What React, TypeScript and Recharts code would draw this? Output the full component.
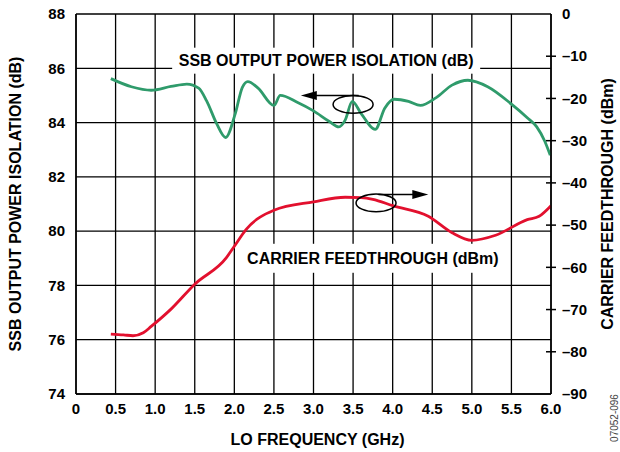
import { LineChart, Line, XAxis, YAxis, CartesianGrid, ReferenceDot, ReferenceLine } from 'recharts';

// SSB output power isolation (dB), left axis
const isoFreq = [0.44, 0.7, 0.95, 1.2, 1.4, 1.55, 1.65, 1.78, 1.89, 2.01, 2.1, 2.17, 2.3, 2.5, 2.58, 2.8, 3.0, 3.2, 3.32, 3.4, 3.49, 3.6, 3.78, 3.9, 4.02, 4.2, 4.35, 4.55, 4.75, 4.95, 5.2, 5.5, 5.7, 5.82, 5.92, 5.99];
const isoDb = [85.62, 85.32, 85.19, 85.33, 85.42, 85.27, 84.8, 83.94, 83.45, 84.31, 85.29, 85.51, 85.27, 84.63, 85.0, 84.74, 84.43, 84.04, 83.84, 84.09, 84.78, 84.34, 83.75, 84.53, 84.86, 84.78, 84.63, 84.92, 85.38, 85.56, 85.32, 84.68, 84.18, 83.84, 83.32, 82.8];

// carrier feedthrough (dBm), right axis
const feedFreq = [0.44, 0.6, 0.72, 0.85, 0.95, 1.2, 1.5, 1.9, 2.0, 2.15, 2.5, 3.0, 3.4, 3.6, 3.75, 4.0, 4.45, 4.75, 5.0, 5.3, 5.7, 5.85, 6.0];
const feedDbm = [-75.8, -76.0, -76.2, -75.5, -74.0, -69.9, -64.0, -57.7, -55.0, -51.0, -46.5, -44.5, -43.4, -43.5, -43.9, -45.4, -47.9, -51.8, -53.6, -52.4, -48.7, -47.9, -45.4];

const freqTicks = [0, 0.5, 1, 1.5, 2, 2.5, 3, 3.5, 4, 4.5, 5, 5.5, 6];
const isoTicks = [74, 76, 78, 80, 82, 84, 86, 88];
const feedTicks = [-90, -80, -70, -60, -50, -40, -30, -20, -10, 0];

const isoData = isoFreq.map((f, i) => ({ freq: f, iso: isoDb[i] }));
const feedData = feedFreq.map((f, i) => ({ freq: f, feed: feedDbm[i] }));

const font = '"Liberation Sans", Arial, sans-serif';
const green = '#2f9b6b';
const red = '#e2102e';

const tickStyle = { fontFamily: font, fontSize: 15, fontWeight: 700, fill: '#000' };
const titleSize = 16;

const RightTick = (props: any) => {
  const { x, y, payload } = props;
  const v = payload.value;
  return (
    <g>
      {v !== 0 && v !== -90 && <line x1={x - 5} x2={x + 5} y1={y} y2={y} stroke="#000" strokeWidth={1.5} />}
      <text x={x + 11} y={y} dy="0.35em" textAnchor="start" {...tickStyle}>
        {v === 0 ? '0' : '\u2013' + Math.abs(v)}
      </text>
    </g>
  );
};

const arrowShape = (props: any) => {
  const { x1, y1, x2, y2 } = props;
  const dir = x2 > x1 ? 1 : -1;
  return (
    <g>
      <line x1={x1} y1={y1} x2={x2 - dir * 10} y2={y2} stroke="#000" strokeWidth={1.5} />
      <polygon points={`${x2},${y2} ${x2 - dir * 16},${y2 - 4.5} ${x2 - dir * 16},${y2 + 4.5}`} fill="#000" />
    </g>
  );
};

const ellipseShape = (props: any) => (
  <ellipse cx={props.cx} cy={props.cy} rx={20} ry={8.8} fill="none" stroke="#000" strokeWidth={1.5} />
);

const boxLabel = (text: string, w: number, h: number) => (props: any) => (
  <g>
    <rect x={props.cx - w / 2} y={props.cy - h / 2} width={w} height={h} fill="#fff" />
    <text x={props.cx} y={props.cy} dy="0.35em" textAnchor="middle" fontFamily={font} fontSize={titleSize} fontWeight={700} fill="#000">
      {text}
    </text>
  </g>
);

export default function App() {
  return (
    <div style={{ position: 'absolute', left: 0, top: 0, width: 620, height: 452, background: '#fff' }}>
      <LineChart width={620} height={452} margin={{ top: 14, right: 0, bottom: 0, left: 0 }}>
        <CartesianGrid yAxisId="left" stroke="#000" strokeWidth={1.3} />
        <XAxis
          dataKey="freq"
          type="number"
          domain={[0, 6]}
          ticks={freqTicks}
          allowDataOverflow
          tickFormatter={(v: number) => (v === 0 ? '0' : v.toFixed(1))}
          height={58}
          tickSize={0}
          tickMargin={9}
          tick={tickStyle}
          axisLine={{ stroke: '#000', strokeWidth: 1.5 }}
          label={{
            content: (p: any) => (
              <text x={p.viewBox.x + p.viewBox.width / 2 + 4} y={439} dy="0.35em" textAnchor="middle" fontFamily={font} fontSize={titleSize} fontWeight={700}>
                LO FREQUENCY (GHz)
              </text>
            ),
          }}
        />
        <YAxis
          yAxisId="left"
          orientation="left"
          width={76}
          domain={[74, 88]}
          ticks={isoTicks}
          allowDataOverflow
          tickSize={0}
          tickMargin={11}
          tick={tickStyle}
          axisLine={{ stroke: '#000', strokeWidth: 1.5 }}
          label={{
            content: (p: any) => {
              const cy = p.viewBox.y + p.viewBox.height / 2;
              return (
                <text x={15} y={cy} dy="0.35em" textAnchor="middle" transform={`rotate(-90 15 ${cy})`} fontFamily={font} fontSize={titleSize} fontWeight={700}>
                  SSB OUTPUT POWER ISOLATION (dB)
                </text>
              );
            },
          }}
        />
        <YAxis
          yAxisId="right"
          orientation="right"
          width={69}
          domain={[-90, 0]}
          ticks={feedTicks}
          allowDataOverflow
          tickSize={0}
          tickMargin={0}
          tickLine={false}
          tick={<RightTick />}
          axisLine={{ stroke: '#000', strokeWidth: 1.5 }}
          label={{
            content: (p: any) => {
              const cy = p.viewBox.y + p.viewBox.height / 2;
              return (
                <g>
                  <text x={607} y={cy} dy="0.35em" textAnchor="middle" transform={`rotate(-90 607 ${cy})`} fontFamily={font} fontSize={titleSize} fontWeight={700}>
                    CARRIER FEEDTHROUGH (dBm)
                  </text>
                  <text x={614} y={418} dy="0.35em" textAnchor="middle" transform={`rotate(-90 614 418)`} fontFamily={font} fontSize={10} fill="#444">
                    07052-096
                  </text>
                </g>
              );
            },
          }}
        />
        <ReferenceDot yAxisId="left" x={3.16} y={86.28} r={1} shape={boxLabel('SSB OUTPUT POWER ISOLATION (dB)', 308, 26)} />
        <ReferenceDot yAxisId="left" x={3.75} y={79.0} r={1} shape={boxLabel('CARRIER FEEDTHROUGH (dBm)', 265, 29)} />
        <Line
          yAxisId="left"
          data={isoData}
          dataKey="iso"
          type="monotone"
          stroke={green}
          strokeWidth={2.8}
          dot={false}
          isAnimationActive={false}
        />
        <Line
          yAxisId="right"
          data={feedData}
          dataKey="feed"
          type="monotone"
          stroke={red}
          strokeWidth={2.8}
          dot={false}
          isAnimationActive={false}
        />
        <ReferenceDot yAxisId="left" x={3.5} y={84.67} r={1} shape={ellipseShape} />
        <ReferenceDot yAxisId="left" x={3.79} y={81.04} r={1} shape={ellipseShape} />
        <ReferenceLine yAxisId="left" segment={[{ x: 3.57, y: 85.0 }, { x: 2.84, y: 85.0 }]} shape={arrowShape} />
        <ReferenceLine yAxisId="left" segment={[{ x: 3.82, y: 81.35 }, { x: 4.45, y: 81.35 }]} shape={arrowShape} />
      </LineChart>
    </div>
  );
}
